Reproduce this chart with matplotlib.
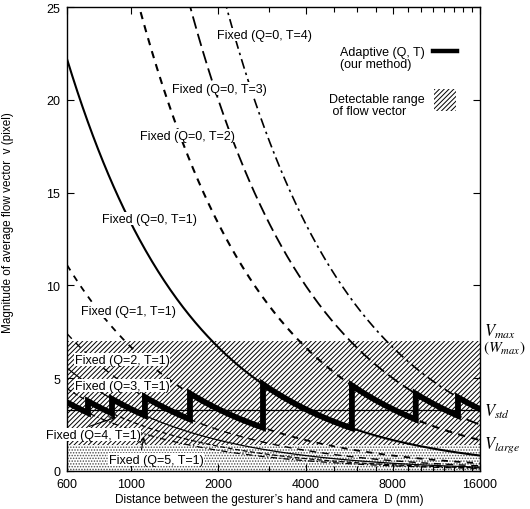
import numpy as np
import matplotlib
matplotlib.use('Agg')
import matplotlib.pyplot as plt

plt.rcParams['font.family'] = ['Liberation Sans', 'DejaVu Sans']
plt.rcParams['mathtext.fontset'] = 'stix'
plt.rcParams['hatch.linewidth'] = 0.7

# ---------------- data ----------------
D_MIN, D_MAX = 600, 16000
D_REF = 600
V_BASE = 22.2                      # v at D=600 mm for Q=0, T=1
fixed_Q = [0, 0, 0, 0, 1, 2, 3, 4, 5]
fixed_T = [1, 2, 3, 4, 1, 1, 1, 1, 1]
adaptive_Q = [5, 4, 3, 2, 1, 0, 0, 0, 0]
adaptive_T = [1, 1, 1, 1, 1, 1, 2, 3, 4]
switch_D = [709, 858, 1115, 1595, 2850, 5780, 9600, 13430]
V_MAX = 7.0
V_STD = 3.3
V_LARGE = 1.4
xtick_values = [600, 1000, 2000, 4000, 8000, 16000]
xtick_labels = ['600', '1000', '2000', '4000', '8000', '16000']
xminor_values = list(range(1000, 16000, 1000))
ytick_values = [0, 5, 10, 15, 20, 25]

# label positions (D, v), same order as the fixed curves
label_D = [1160, 1560, 2020, 2890, 980, 930, 930, 740, 1220]
label_v = [13.6, 18.05, 20.6, 23.5, 8.6, 6.0, 4.6, 1.95, 0.6]

styles = [
    dict(ls='-', lw=1.5),
    dict(ls=(0, (3.5, 3)), lw=1.5),
    dict(ls=(0, (7, 3)), lw=1.3),
    dict(ls=(0, (6, 2.5, 1.5, 2.5)), lw=1.2),
    dict(ls=(0, (3.5, 3.5)), lw=1.3),
    dict(ls=(0, (5, 4)), lw=1.0),
    dict(ls='-', lw=0.9),
    dict(ls=(0, (4, 2)), lw=0.9),
    dict(ls=(0, (5, 2, 1, 2)), lw=0.9),
]


def flow(D, Q, T):
    return V_BASE * D_REF * T / ((Q + 1) * np.asarray(D, dtype=float))


fig = plt.figure(figsize=(5.3, 5.1), dpi=100)
ax = fig.add_axes([67 / 530, 1 - 472 / 510, 413 / 530, 464 / 510])
ax.set_xscale('log')
ax.set_xlim(D_MIN, D_MAX)
ax.set_ylim(0, 25)

# regions
ax.axhspan(0, V_LARGE, facecolor='white', edgecolor='0.3', hatch='......', lw=0, zorder=0)
ax.axhspan(V_LARGE, V_MAX, facecolor='white', edgecolor='black', hatch='///////', lw=0, zorder=0)
ax.axhline(V_STD, color='black', lw=0.9, zorder=2)

# fixed curves
Dg = np.geomspace(D_MIN, D_MAX, 400)
for Q, T, st in zip(fixed_Q, fixed_T, styles):
    ax.plot(Dg, flow(Dg, Q, T), color='black', zorder=3, **st)

# adaptive curve
bounds = [D_MIN] + switch_D + [D_MAX]
xs, ys = [], []
for i, (Q, T) in enumerate(zip(adaptive_Q, adaptive_T)):
    seg = np.geomspace(bounds[i], bounds[i + 1], 60)
    xs.extend(seg)
    ys.extend(flow(seg, Q, T))
ax.plot(xs, ys, color='black', lw=4.2, solid_joinstyle='miter', zorder=4)

# curve labels
for Q, T, lx, ly in zip(fixed_Q, fixed_T, label_D, label_v):
    ax.text(lx, ly, f'Fixed (Q={Q}, T={T})', ha='center', va='center', fontsize=9,
            zorder=6, bbox=dict(facecolor='white', edgecolor='none', pad=0.4))

# arrows for Q=4 and Q=5 labels
ax.annotate('', xy=(905, flow(905, 4, 1)), xytext=(700, 2.35),
            arrowprops=dict(arrowstyle='->', lw=0.8, color='black'), zorder=6)
ax.annotate('', xy=(1110, flow(1110, 5, 1)), xytext=(1080, 1.0),
            arrowprops=dict(arrowstyle='->', lw=0.8, color='black'), zorder=6)

# legend (manual, gnuplot style)
tA = ax.transAxes
ax.text(0.867, 0.917, 'Adaptive (Q, T)\n(our method)', transform=tA, ha='right', va='top',
        multialignment='left', fontsize=9, linespacing=1.05)
ax.plot([0.886, 0.944], [0.905, 0.905], transform=tA, color='black', lw=3.2)
ax.text(0.867, 0.815, 'Detectable range\n of flow vector', transform=tA, ha='right', va='top',
        multialignment='left', fontsize=9, linespacing=1.05)
ax.add_patch(plt.Rectangle((0.888, 0.776), 0.055, 0.048, transform=tA, facecolor='white',
                           edgecolor='black', hatch='///////', lw=0))

# right-side labels
tB = ax.get_yaxis_transform()
ax.text(1.01, 7.55, r'$V_{max}$', transform=tB, ha='left', va='center', fontsize=12, clip_on=False)
ax.text(1.008, 6.65, r'$(W_{max})$', transform=tB, ha='left', va='center', fontsize=11, clip_on=False)
ax.text(1.01, V_STD - 0.05, r'$V_{std}$', transform=tB, ha='left', va='center', fontsize=12, clip_on=False)
ax.text(1.01, 1.45, r'$V_{large}$', transform=tB, ha='left', va='center', fontsize=12, clip_on=False)

# ticks
ax.set_xticks(xtick_values)
ax.set_xticklabels(xtick_labels)
ax.set_xticks(xminor_values, minor=True)
ax.xaxis.set_minor_formatter(matplotlib.ticker.NullFormatter())
ax.set_yticks(ytick_values)
ax.tick_params(axis='both', which='both', direction='in', top=True, right=True, labelsize=9)
ax.tick_params(axis='both', which='major', length=5, width=0.8)
ax.tick_params(axis='both', which='minor', length=3.5, width=0.8)
ax.tick_params(axis='x', which='major', pad=5)
ax.tick_params(axis='y', which='major', pad=5)
for s in ax.spines.values():
    s.set_linewidth(1.0)

ax.set_xlabel('Distance between the gesturer’s hand and camera  D (mm)', fontsize=8.5)
ax.xaxis.set_label_coords(0.489, -0.047)
ax.set_ylabel('Magnitude of average flow vector  v (pixel)', fontsize=8.5)
ax.yaxis.set_label_coords(-0.128, 0.537)

fig.savefig('out.png', dpi=100)
